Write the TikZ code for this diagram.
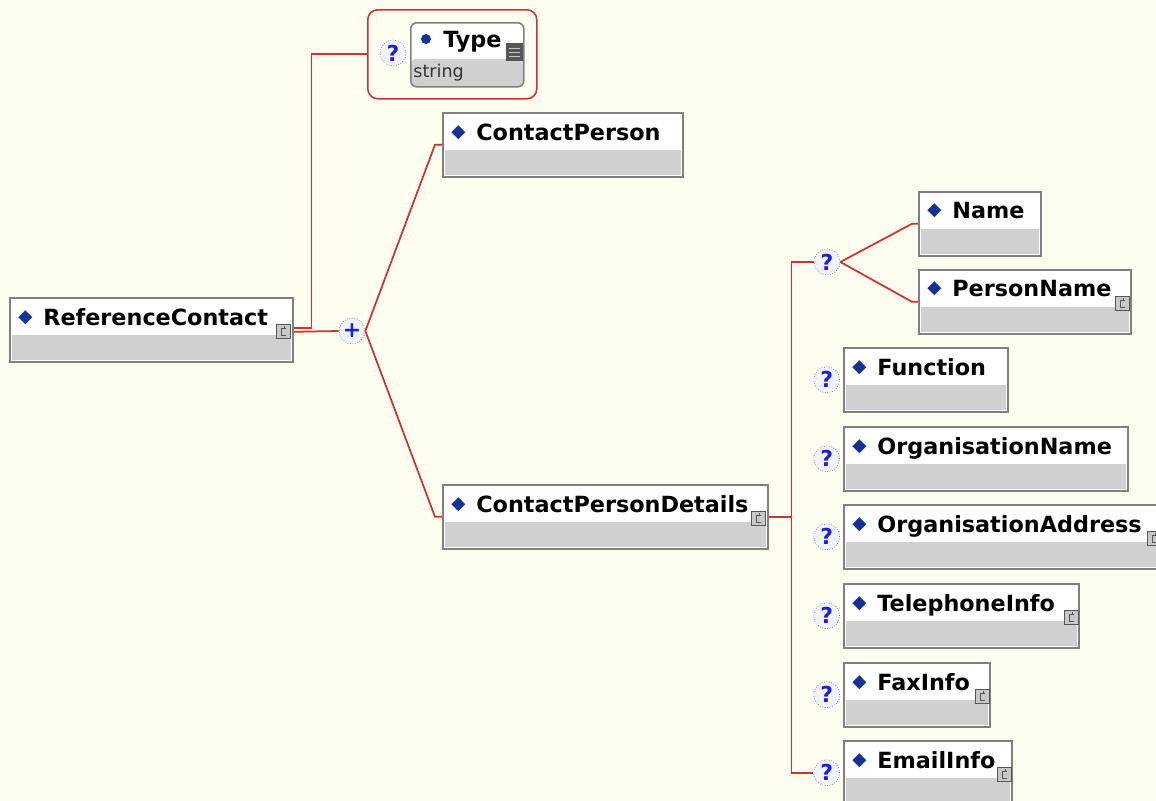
\documentclass[tikz,border=0pt]{standalone}
\usepackage{fontspec}
\setmainfont{DejaVu Sans}
\usetikzlibrary{positioning}
\definecolor{bgcream}{RGB}{253,253,240}
\definecolor{linered}{RGB}{204,51,51}
\definecolor{boxline}{RGB}{128,128,128}
\definecolor{boxgrey}{RGB}{208,208,208}
\definecolor{diamblue}{RGB}{20,50,150}
\definecolor{qblue}{RGB}{30,30,210}
\definecolor{circgray}{RGB}{120,120,120}
\definecolor{circfill}{RGB}{240,242,255}
\definecolor{icongrey}{RGB}{200,200,200}
\definecolor{icondark}{RGB}{85,85,85}
\newdimen\pxu \pxu=0.02cm
\newcommand\dm{\makebox[25\pxu][l]{\textcolor{diamblue}{\fontsize{10.5}{12}\selectfont\raisebox{1.5pt}{◆}}}}
\tikzset{
  elem/.style={rectangle,draw=boxline,line width=0.9pt,fill=white,anchor=north west,
               minimum width=#1\pxu,minimum height=64\pxu,inner sep=0pt,
               path picture={\fill[boxgrey] ([shift={(2\pxu,2\pxu)}]path picture bounding box.south west)
                 rectangle ([shift={(-2\pxu,27\pxu)}]path picture bounding box.south east);}},
  elem/.default=200,
  elabel/.style={anchor=base west,inner sep=0pt,font=\bfseries\fontsize{12.7}{14}\selectfont},
  slabel/.style={anchor=base west,inner sep=0pt,font=\fontsize{10}{12}\selectfont,text=black!80},
  qmark/.style={circle,draw=circgray,densely dotted,fill=circfill,minimum size=26\pxu,
                inner sep=0pt,text=qblue,font=\bfseries\fontsize{12.5}{13}\selectfont},
  cicon/.style={rectangle,draw=icondark,line width=0.5pt,fill=icongrey,anchor=south east,
                minimum size=14\pxu,inner sep=0pt,
                path picture={\draw[icondark,line width=0.7pt]
                  ([shift={(10\pxu,3\pxu)}]path picture bounding box.south west) -- ++(-5\pxu,0)
                  -- ++(0,7\pxu) -- ++(5\pxu,0) ++(-2\pxu,0) -- ++(0,2\pxu);}},
  licon/.style={rectangle,fill=icondark,anchor=north east,minimum width=17\pxu,
                minimum height=18\pxu,inner sep=0pt,
                path picture={\foreach \k in {5,9,13}
                  \draw[icongrey,line width=0.8pt]
                  ([shift={(3\pxu,\k\pxu)}]path picture bounding box.south west) -- ++(11\pxu,0);}},
  typegrp/.style={rectangle,draw=linered,line width=0.9pt,rounded corners=0.2cm,anchor=north west,
                  minimum width=169\pxu,minimum height=89\pxu,inner sep=0pt},
  typebox/.style={rectangle,draw=boxline,line width=0.9pt,fill=white,rounded corners=0.12cm,
                  anchor=north west,minimum width=113\pxu,minimum height=64\pxu,inner sep=0pt,
                  path picture={\fill[boxgrey] (path picture bounding box.south west)
                    rectangle ([yshift=28\pxu]path picture bounding box.south east);}},
  conn/.style={draw=linered,line width=1pt},
}
\begin{document}
\begin{tikzpicture}[x=0.02cm,y=-0.02cm]
  \path[fill=bgcream,use as bounding box] (0,0) rectangle (1156,801);
  \clip (0,0) rectangle (1156,801);

  % root element
  \node[elem=283] (refc) at (9,297) {};
  \node[elabel] (refcl) at ([shift={(9\pxu,-28\pxu)}]refc.north west) {\dm ReferenceContact};
  \node[cicon] (refci) at ([shift={(-3\pxu,24\pxu)}]refc.south east) {};

  % attribute group
  \node[typegrp] (tgrp) at (367,9) {};
  \node[qmark] (qtype) at (393,53) {?};
  \node[typebox] (typeb) at (410,22) {};
  \node[circle,fill=diamblue,minimum size=10\pxu,inner sep=0pt] (typedot) at (426,39) {};
  \node[elabel] (typel) at (443,47) {Type};
  \node[slabel] (typestr) at (413,77) {string};
  \node[licon] (typeic) at (523,43) {};

  % sequence
  \node[qmark] (seq) at (352,331) {+};
  \node[elem=240] (cp) at (442,112) {};
  \node[elabel] (cpl) at ([shift={(9\pxu,-28\pxu)}]cp.north west) {\dm ContactPerson};
  \node[elem=325] (cpd) at (442,484) {};
  \node[elabel] (cpdl) at ([shift={(9\pxu,-28\pxu)}]cpd.north west) {\dm ContactPersonDetails};
  \node[cicon] (cpdi) at ([shift={(-3\pxu,24\pxu)}]cpd.south east) {};

  % choice
  \node[qmark] (qch) at (827,262) {?};
  \node[elem=122] (name) at (918,191) {};
  \node[elabel] (namel) at ([shift={(9\pxu,-27\pxu)}]name.north west) {\dm Name};
  \node[elem=212] (pname) at (918,269) {};
  \node[elabel] (pnamel) at ([shift={(9\pxu,-27\pxu)}]pname.north west) {\dm PersonName};
  \node[cicon] (pnamei) at ([shift={(-2\pxu,24\pxu)}]pname.south east) {};

  % details
  \node[elem=164] (func) at (843,347) {};
  \node[elabel] (funcl) at ([shift={(9\pxu,-28\pxu)}]func.north west) {\dm Function};
  \node[qmark,left=3\pxu of func] (qfunc) {?};
  \node[elem=284] (orgn) at (843,426) {};
  \node[elabel] (orgnl) at ([shift={(9\pxu,-28\pxu)}]orgn.north west) {\dm OrganisationName};
  \node[qmark,left=3\pxu of orgn] (qorgn) {?};
  \node[elem=320] (orga) at (843,504) {};
  \node[elabel] (orgal) at ([shift={(9\pxu,-28\pxu)}]orga.north west) {\dm OrganisationAddress};
  \node[cicon] (orgai) at ([shift={(-3\pxu,24\pxu)}]orga.south east) {};
  \node[qmark,left=3\pxu of orga] (qorga) {?};
  \node[elem=235] (tel) at (843,583) {};
  \node[elabel] (tell) at ([shift={(9\pxu,-28\pxu)}]tel.north west) {\dm TelephoneInfo};
  \node[cicon] (teli) at ([shift={(-1\pxu,24\pxu)}]tel.south east) {};
  \node[qmark,left=3\pxu of tel] (qtel) {?};
  \node[elem=146] (fax) at (843,662) {};
  \node[elabel] (faxl) at ([shift={(9\pxu,-28\pxu)}]fax.north west) {\dm FaxInfo};
  \node[cicon] (faxi) at ([shift={(-1\pxu,24\pxu)}]fax.south east) {};
  \node[qmark,left=3\pxu of fax] (qfax) {?};
  \node[elem=168] (email) at (843,740) {};
  \node[elabel] (emaill) at ([shift={(9\pxu,-28\pxu)}]email.north west) {\dm EmailInfo};
  \node[cicon] (emaili) at ([shift={(-1\pxu,24\pxu)}]email.south east) {};
  \node[qmark,left=3\pxu of email] (qemail) {?};

  % connectors
  \draw[conn] ([yshift=2\pxu]refc.east) -- ++(18,0) |- (tgrp.west);
  \draw[conn] ([yshift=-2\pxu]refc.east) -- (seq.west);
  \draw[conn] (seq.east) -- ([xshift=-7\pxu]cp.west) -- (cp.west);
  \draw[conn] (seq.east) -- ([xshift=-7\pxu]cpd.west) -- (cpd.west);
  \coordinate (bus) at ([xshift=23\pxu]cpd.east);
  \draw[conn] (cpd.east) -- (bus);
  \draw[conn] (qch.west) -| (bus) |- (qemail.west);
  \draw[conn] (qch.east) -- ([xshift=-6\pxu]name.west) -- (name.west);
  \draw[conn] (qch.east) -- ([xshift=-6\pxu]pname.west) -- (pname.west);
\end{tikzpicture}
\end{document}
